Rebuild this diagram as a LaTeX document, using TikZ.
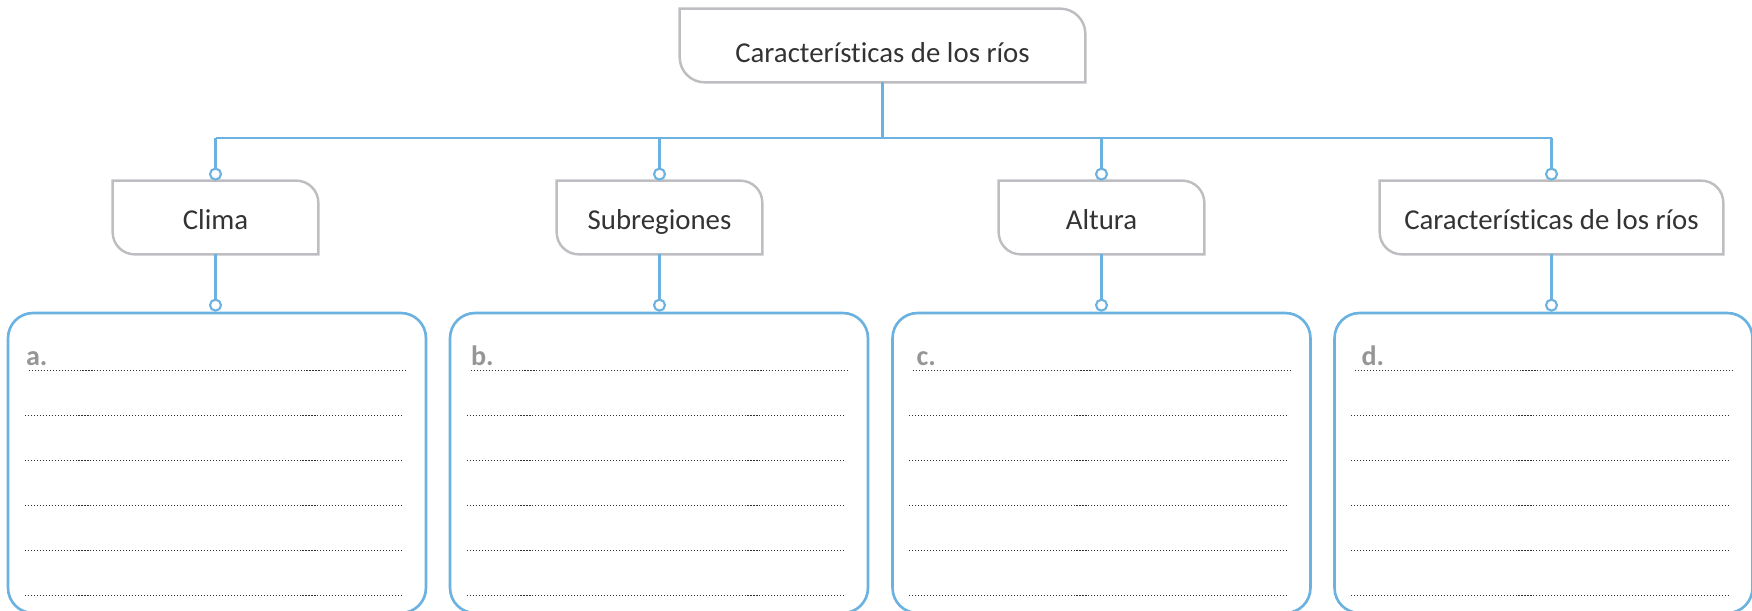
\documentclass[tikz,border=0pt]{standalone}
\usepackage{fontspec}
\setmainfont[Ligatures=NoCommon]{Carlito}
\usetikzlibrary{calc}
\definecolor{linkblue}{RGB}{108,178,224}
\definecolor{framegray}{RGB}{190,190,194}
\definecolor{inkgray}{RGB}{51,51,51}
\definecolor{taggray}{RGB}{150,150,150}

\begin{document}
\begin{tikzpicture}[
  x=0.02cm, y=-0.02cm,
  font=\fontsize{16.4}{19}\selectfont,
  topic/.style={text=inkgray, inner sep=0pt, minimum height=1.46cm,
                text height=14.2pt, text depth=0pt},
  frame/.style={draw=framegray, line width=1.4pt},
  card/.style={draw=linkblue, line width=1.5pt, rounded corners=0.5cm,
               minimum width=8.36cm, minimum height=6cm, inner sep=0pt},
  link/.style={draw=linkblue, line width=1.3pt},
  ring/.style={circle, draw=linkblue, fill=white, line width=1.2pt,
               inner sep=0pt, minimum size=0.22cm},
  rule/.style={draw=black!80, line width=0.6pt, dash pattern=on 0.6pt off 1.1pt},
  tag/.style={font=\fontsize{16}{19}\selectfont\bfseries, text=taggray,
              inner sep=0pt, anchor=base west}
]
\useasboundingbox (0,0) rectangle (1752,611);

% ================= headings =================
\node[topic, minimum width=8.1cm, text height=18.8pt] (rios) at (882.5,45.5) {Características de los ríos};
\node[topic, minimum width=4.1cm] (clima) at (215.5,217.5) {Clima};
\node[topic, minimum width=4.1cm] (subreg) at (659.5,217.5) {Subregiones};
\node[topic, minimum width=4.1cm] (altura) at (1101.5,217.5) {Altura};
\node[topic, minimum width=6.86cm] (rios2) at (1551.5,217.5) {Características de los ríos};

% tab-like frames: only top right and bottom left are rounded
\foreach \n/\r in {rios/0.5cm, clima/0.44cm, subreg/0.44cm, altura/0.44cm, rios2/0.44cm}
  \draw[frame] (\n.north west) -- ($(\n.north east)-(\r,0)$)
    arc[start angle=90, end angle=0, radius=\r] -- (\n.south east)
    -- ($(\n.south west)+(\r,0)$)
    arc[start angle=270, end angle=180, radius=\r] -- cycle;

% ================= answer cards =================
\node[card] (ca) at (217,463) {};
\node[card] (cb) at (659,463) {};
\node[card] (cc) at (1101.5,463) {};
\node[card] (cd) at (1543.5,463) {};

% ================= connectors =================
\coordinate (bus) at (882,138);
\draw[link] (rios) -- (rios.south |- bus);

\foreach \n/\c in {clima/ca, subreg/cb, altura/cc, rios2/cd} {
  \node[ring, anchor=south] (up\n) at (\n.north) {};
  \node[ring, anchor=south] (low\c) at (\n.south |- \c.north) {};
  \draw[link] (\n.south) -- (low\c);
  \draw[link] (up\n) -- (up\n |- bus);
}
\draw[link] (upclima |- bus) -- (uprios2 |- bus);

% ================= writing lines =================
\foreach \c/\l/\o in {ca/a/19, cb/b/22, cc/c/25, cd/d/28} {
  \node[tag] (tag\l) at ($(\c.north west)+(\o,54)$) {\l.};
  \draw[rule] ($(\c.north west)+(22,59)$) -- ++(379,0);
  \foreach \k in {1,...,5}
    \draw[rule] ($(\c.north west)+(18,{59+45*\k})$) -- ++(379,0);
}

\end{tikzpicture}
\end{document}
